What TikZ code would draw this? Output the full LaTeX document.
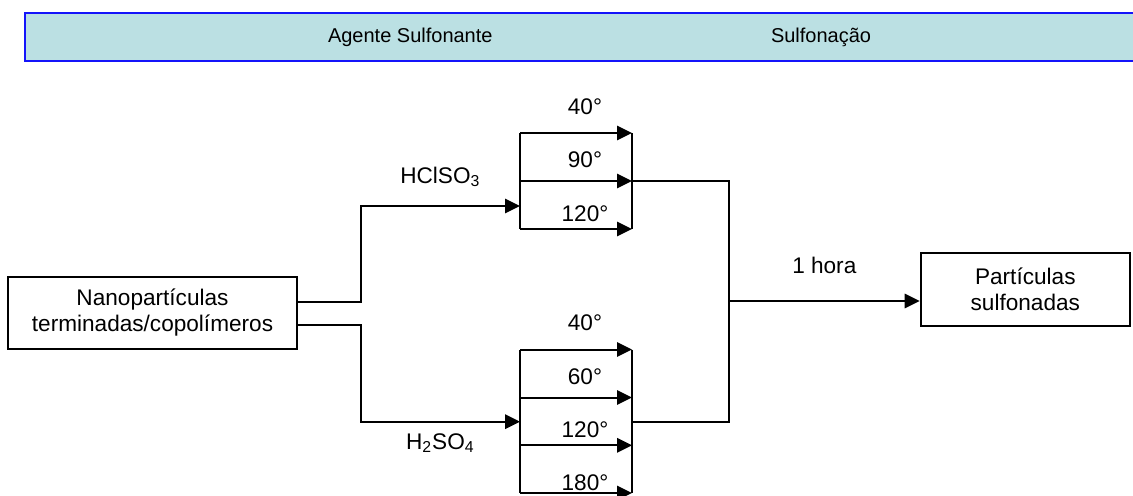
\documentclass[tikz,border=0pt]{standalone}
\usepackage{fontspec}
\setmainfont{Liberation Sans}
\usepackage{tikz}
\usetikzlibrary{arrows.meta, positioning, calc}
\definecolor{bandfill}{RGB}{187, 224, 227}
\definecolor{bandline}{RGB}{20, 20, 250}

\begin{document}
\begin{tikzpicture}[x=0.5pt, y=-0.5pt, line width=1pt,
    flow/.style={-{Triangle[length=7.5pt, width=7.2pt]}},
    procbox/.style={draw, align=center, inner sep=0pt, font=\fontsize{11.3}{13}\selectfont},
    lbl/.style={font=\fontsize{11.3}{13}\selectfont, inner sep=0pt},
    headlbl/.style={font=\fontsize{10}{12}\selectfont, inner sep=0pt, anchor=west}]
        \useasboundingbox (0,0) rectangle (1133,495);

        % header band (open on the right)
        \fill[bandfill] (25,13) rectangle (1133,61);
        \draw[bandline] (1133,13) -- (25,13) -- (25,61) -- (1133,61);
        \node[headlbl] (hagent) at (327,37) {Agente Sulfonante};
        \node[headlbl] (hsulf) at (770,37) {Sulfonação};

        % start and end boxes
        \node[procbox, minimum width=144.2pt, minimum height=36pt] (nano) at (152.5,313)
          {Nanopartículas\\terminadas/copolímeros};
        \node[procbox, minimum width=104.7pt, minimum height=36.2pt] (part) at (1025.3,289.5)
          {Partículas\\sulfonadas};

        % branch points
        \coordinate (split) at (360.7,0);
        \coordinate (hclin) at (520,206);
        \coordinate (hsoin) at (520,421.7);
        \coordinate (hsoout) at (632,421.7);
        \coordinate (merge) at (729,301);

        % HClSO3 branch: 40, 90, 120
        \foreach \i/\y in {1/133, 2/181, 3/229} {
          \coordinate (a\i) at (520,\y);
          \coordinate (b\i) at (632,\y);
          \draw[flow] (a\i) -- (b\i);
        }
        \draw (a1) -- (a3);
        \draw (b1) -- (b3);
        \node[lbl] (t40a) at (585,107) {40°};
        \node[lbl] (t90a) at (585,160) {90°};
        \node[lbl] (t120a) at (585,214) {120°};

        % H2SO4 branch: 40, 60, 120, 180
        \foreach \i/\y in {1/349.5, 2/397.5, 3/445.3, 4/493} {
          \coordinate (c\i) at (520,\y);
          \coordinate (d\i) at (632,\y);
          \draw[flow] (c\i) -- (d\i);
        }
        \draw (c1) -- (c4);
        \draw (d1) -- (d4);
        \node[lbl] (t40b) at (585,323) {40°};
        \node[lbl] (t60b) at (585,377) {60°};
        \node[lbl] (t120b) at (585,430) {120°};
        \node[lbl] (t180b) at (585,483) {180°};

        % feeds into the two agents
        \draw[flow] ([yshift=5.7pt]nano.east) -| (split |- hclin) -- (hclin);
        \node[lbl] (hcllbl) at ($(split |- hclin)!0.5!(hclin)+(0,-29)$) {HClSO\textsubscript{3}};
        \draw[flow] ([yshift=-6pt]nano.east) -| (split |- hsoin) -- (hsoin);
        \node[lbl] (hsolbl) at ($(split |- hsoin)!0.5!(hsoin)+(0,21.5)$) {H\textsubscript{2}SO\textsubscript{4}};

        % join and result
        \draw (b2) -| (merge);
        \draw (hsoout) -| (merge);
        \draw[flow] (merge) -- (merge -| part.west)
          node[lbl, midway, above=13pt] (hora) {1 hora};
\end{tikzpicture}
\end{document}
